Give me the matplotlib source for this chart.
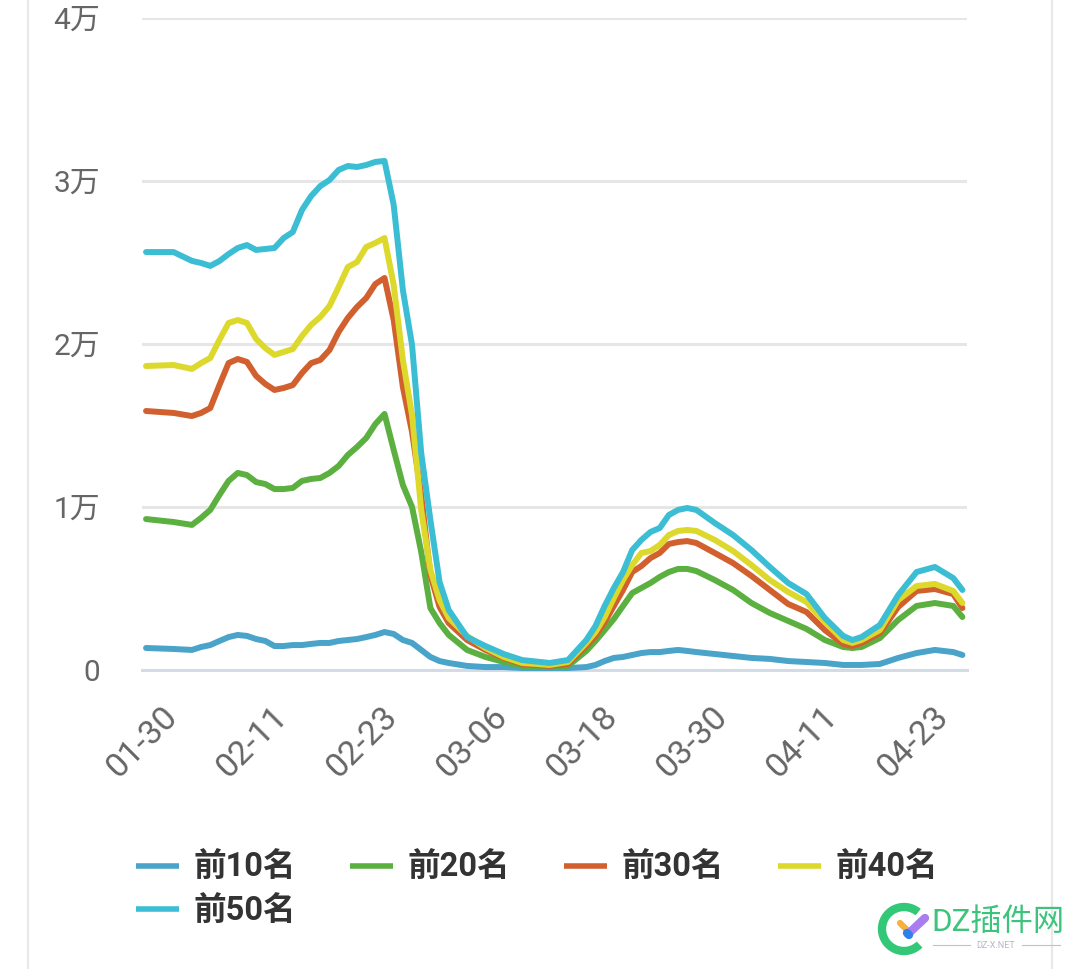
"""Daily counts for the top 10/20/30/40/50 ranks, 01-30 to late April"""
import matplotlib
matplotlib.use("Agg")
import matplotlib.pyplot as plt
from matplotlib.patches import Arc
from matplotlib.transforms import ScaledTranslation

plt.rcParams['font.family'] = ['Roboto', 'Noto Sans CJK SC', 'DejaVu Sans']

# day index counted from 01-30
days = [0, 3, 5, 6, 7, 8, 9, 10, 11, 12,
        13, 14, 15, 16, 17, 18, 19, 20, 21, 22,
        23, 24, 25, 26, 27, 28, 29, 30, 31, 32,
        33, 35, 37, 39, 41, 44, 46, 48, 49, 50,
        51, 52, 53, 54, 55, 56, 57, 58, 59, 60,
        62, 64, 66, 68, 70, 72, 74, 76, 77, 78,
        80, 82, 84, 86, 88, 89]

top10 = [1350, 1290, 1230, 1410, 1530, 1780, 2020, 2150, 2090, 1900,
         1780, 1470, 1470, 1530, 1530, 1600, 1660, 1660, 1780, 1840,
         1900, 2020, 2150, 2330, 2210, 1840, 1660, 1230, 800, 550,
         430, 250, 180, 180, 120, 120, 120, 180, 310, 550,
         740, 800, 920, 1040, 1100, 1100, 1170, 1230, 1170, 1100,
         980, 860, 740, 680, 550, 490, 430, 310, 310, 310,
         370, 740, 1040, 1230, 1100, 920]
top20 = [9260, 9080, 8900, 9330, 9820, 10740, 11600, 12090, 11960, 11530,
         11410, 11100, 11100, 11170, 11600, 11720, 11780, 12090, 12520, 13190,
         13680, 14230, 15090, 15710, 13500, 11350, 10000, 7240, 3800, 2880,
         2150, 1230, 800, 490, 250, 180, 250, 1170, 1780, 2450,
         3130, 3930, 4720, 5030, 5340, 5710, 6010, 6200, 6200, 6070,
         5520, 4910, 4110, 3500, 3010, 2520, 1840, 1410, 1350, 1410,
         1960, 3070, 3930, 4110, 3930, 3250]
top30 = [15890, 15770, 15580, 15770, 16070, 17480, 18830, 19080, 18900, 18040,
         17550, 17180, 17300, 17480, 18220, 18830, 19020, 19630, 20740, 21600,
         22270, 22820, 23680, 24050, 21470, 17360, 14600, 10740, 5830, 3870,
         2880, 1840, 1230, 740, 370, 250, 370, 1470, 2090, 2940,
         3930, 4910, 6010, 6380, 6870, 7180, 7730, 7850, 7910, 7790,
         7180, 6560, 5770, 4910, 4050, 3560, 2450, 1600, 1470, 1660,
         2270, 3870, 4850, 4970, 4660, 3800]
top40 = [18650, 18710, 18470, 18830, 19140, 20250, 21290, 21470, 21290, 20310,
         19750, 19330, 19510, 19690, 20490, 21170, 21660, 22330, 23500, 24720,
         25030, 25950, 26200, 26500, 23620, 19020, 15640, 9820, 6140, 4290,
         3190, 2090, 1350, 800, 430, 310, 490, 1660, 2330, 3250,
         4420, 5520, 6440, 7180, 7300, 7670, 8280, 8530, 8590, 8530,
         7980, 7300, 6440, 5520, 4790, 4170, 2940, 1840, 1660, 1840,
         2450, 4290, 5150, 5280, 4850, 4110]
top50 = [25640, 25640, 25100, 24970, 24790, 25090, 25520, 25890, 26070, 25770,
         25830, 25890, 26500, 26870, 28220, 29080, 29690, 30060, 30680, 30920,
         30860, 30980, 31170, 31230, 28530, 23310, 19940, 13310, 9200, 5400,
         3680, 2020, 1470, 980, 610, 430, 610, 1840, 2700, 3930,
         5030, 6010, 7360, 7980, 8470, 8710, 9510, 9820, 9940, 9820,
         9020, 8280, 7360, 6320, 5340, 4660, 3190, 2090, 1840, 2020,
         2760, 4600, 6010, 6320, 5640, 4910]

series = [top10, top20, top30, top40, top50]
names = ["前10名", "前20名", "前30名", "前40名", "前50名"]
colors = ["#4aa3c9", "#5bb040", "#d2602f", "#dcd82c", "#3bbdd4"]

date_ticks = [0, 12, 24, 36, 48, 60, 72, 84]
date_labels = ["01-30", "02-11", "02-23", "03-06", "03-18", "03-30", "04-11", "04-23"]
y_ticks = [0, 10000, 20000, 30000, 40000]
y_labels = ["0", "1万", "2万", "3万", "4万"]

W, H = 1080, 969
fig = plt.figure(figsize=(W / 100, H / 100), dpi=100)
ax = fig.add_axes([142 / W, 1 - 670 / H, (967 - 142) / W, (670 - 18) / H])

lines = []
for vals, name, col in zip(series, names, colors):
    ln, = ax.plot(days, vals, color=col, lw=4.3, label=name,
                  solid_joinstyle='round', solid_capstyle='round', clip_on=False, zorder=3)
    lines.append(ln)

ax.set_xlim(-0.44, 89.5)
ax.set_ylim(0, 40000)
ax.set_yticks(y_ticks, y_labels)
ax.set_xticks(date_ticks, date_labels)
ax.tick_params(axis='y', length=0, pad=30, labelsize=21.5, labelcolor="#666666")
ax.tick_params(axis='x', length=0, pad=22, labelsize=24.5, labelcolor="#666666")
shift = ScaledTranslation(-4 / 100, 0, fig.dpi_scale_trans)
for lab in ax.get_xticklabels():
    lab.set_rotation(45)
    lab.set_ha('center')
    lab.set_transform(lab.get_transform() + shift)

ax.grid(axis='y', color="#e6e6e6", lw=2.2)
ax.set_axisbelow(True)
for side in ['top', 'right', 'left']:
    ax.spines[side].set_visible(False)
ax.spines['bottom'].set_color("#d3dbe6")
ax.spines['bottom'].set_linewidth(2.2)

# column-first legend: 前50名 goes under 前10名
order = [0, 4, 1, 2, 3]
leg = fig.legend([lines[i] for i in order], [names[i] for i in order],
                 loc='upper left', bbox_to_anchor=(136 / W, 1 - 852 / H), ncol=4, frameon=False,
                 prop={'size': 23.5, 'weight': 'bold'}, labelcolor="#333333",
                 handlelength=1.33, handletextpad=0.44, columnspacing=1.64,
                 labelspacing=0.36, borderpad=0, borderaxespad=0)
for h in leg.get_lines():
    h.set_linewidth(4)
    h.set_solid_capstyle('butt')

# page frame and the watermark sit on an overlay in pixel coordinates
over = fig.add_axes([0, 0, 1, 1], facecolor='none')
over.set_xlim(0, W)
over.set_ylim(H, 0)
over.axis('off')
over.plot([28, 28], [0, H], color="#e9e9e9", lw=1.6)
over.plot([1052, 1052], [0, H], color="#e9e9e9", lw=1.6)

green = "#33c877"
over.add_patch(Arc((904, 929), 44, 44, theta1=45, theta2=310, color=green, lw=6))
over.plot([900, 908], [923, 931], color="#f7b13c", lw=4.5, solid_capstyle='round')
over.plot([908, 925], [934, 918], color="#a97df0", lw=6, solid_capstyle='round')
over.plot([907, 909], [933, 935], color="#2f80ed", lw=6, solid_capstyle='round')
over.text(931, 922, "DZ插件网", color="#3cc47c", fontsize=22.5, va='center', ha='left')
over.text(996, 945, "DZ-X.NET", color="#b9b4c9", fontsize=6.5, va='center', ha='center')
over.plot([933, 970], [945, 945], color="#c4b8e6", lw=0.8)
over.plot([1022, 1060], [945, 945], color="#c4b8e6", lw=0.8)

fig.savefig("out.png", dpi=100)
